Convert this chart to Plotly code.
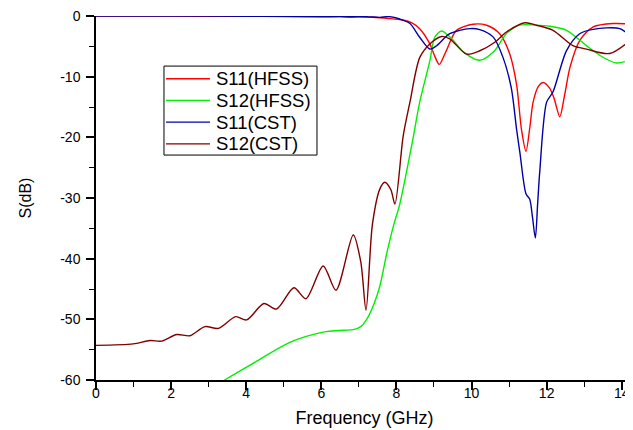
import plotly.graph_objects as go

# S11 (HFSS) - red
f_s11_hfss = [0, 2, 4, 5, 6, 6.5, 7, 7.37, 7.8, 8.17, 8.4, 8.62, 8.89, 9.0, 9.14, 9.33, 9.6, 10.04, 10.4, 10.75,
              11.02, 11.2, 11.33, 11.45, 11.55, 11.64, 11.78, 11.91, 12.08, 12.2, 12.35, 12.48, 12.62, 12.88, 13.24, 13.77, 14.3]
s11_hfss = [0, -0.02, -0.05, -0.08, -0.12, -0.15, -0.18, -0.2, -0.4, -0.67, -1.1, -2.1, -4.6, -6.3, -7.98, -5.7, -2.36, -1.35, -1.52, -2.92,
            -6.29, -11.3, -18.7, -22.3, -18.5, -14.2, -11.6, -10.95, -11.9, -13.6, -16.6, -13.0, -8.5, -4.05, -1.8, -1.24, -1.35]

# S12 (HFSS) - green
f_s12_hfss = [3.42, 4.28, 5.16, 6.05, 6.6, 6.85, 7.05, 7.2, 7.4, 7.56, 7.74, 7.93, 8.09, 8.42, 8.62, 8.89, 9.02, 9.2, 9.45, 9.8, 10.22,
              10.6, 10.93, 11.28, 11.7, 12.08, 12.53, 13.06, 13.5, 13.86, 14.3]
s12_hfss = [-60, -56.9, -53.8, -52.1, -51.8, -51.7, -51.2, -50.1, -47.5, -44.5, -39.2, -34.4, -31.0, -20.9, -14.2, -7.4, -3.5, -2.47, -3.6, -6.0, -7.3,
            -5.8, -2.9, -1.5, -1.5, -1.69, -2.36, -4.89, -6.8, -7.75, -7.1]

# S11 (CST) - blue
f_s11_cst = [0, 2, 4, 5, 6, 6.5, 6.8, 7.0, 7.3, 7.56, 7.8, 8.09, 8.36, 8.62, 8.89, 9.07, 9.42, 9.95, 10.22, 10.58, 10.84, 11.06, 11.2,
             11.29, 11.45, 11.55, 11.62, 11.7, 11.76, 11.82, 12.0, 12.17, 12.53, 12.88, 13.24, 13.95, 14.3]
s11_cst = [0, -0.01, -0.03, -0.06, -0.1, -0.05, -0.12, -0.05, -0.15, -0.22, -0.1, -0.5, -1.24, -3.5, -5.45, -4.9, -2.92, -2.08, -2.25, -3.48, -6.86, -11.9, -18.7,
           -22.6, -29.3, -30.2, -33.0, -36.6, -31.0, -25.4, -14.2, -12.5, -5.7, -2.92, -2.2, -2.08, -3.76]

# S12 (CST) - dark red
f_s12_cst = [0, 0.99, 1.44, 1.75, 2.15, 2.5, 2.9, 3.26, 3.72, 4.01, 4.47, 4.81, 5.27, 5.59, 6.05, 6.39, 6.85, 7.05, 7.19, 7.36, 7.56, 7.69,
             7.85, 7.96, 8.18, 8.36, 8.62, 8.89, 9.2, 9.42, 9.87, 10.22, 10.62, 10.93, 11.42, 11.73, 12.17, 12.7, 13.06, 13.68, 14.3]
s12_cst = [-54.3, -54.05, -53.5, -53.6, -52.5, -52.7, -51.2, -51.5, -49.55, -50.1, -47.4, -48.3, -44.8, -46.6, -41.2, -45.2, -36.1, -40.5, -48.5, -34.4, -28.5, -27.4,
           -28.6, -31.0, -19.8, -14.2, -6.86, -4.6, -3.37, -3.76, -6.29, -5.73, -4.33, -2.64, -1.12, -1.52, -2.36, -4.89, -5.45, -6.18, -3.65]

x_ticks = [0, 2, 4, 6, 8, 10, 12, 14]
y_ticks = [0, -10, -20, -30, -40, -50, -60]
y_ticktext = ["0", "-10", "-20", "-30", "-40", "-50", "-60"]

series_names = ["S11(HFSS)", "S12(HFSS)", "S11(CST)", "S12(CST)"]
series_x = [f_s11_hfss, f_s12_hfss, f_s11_cst, f_s12_cst]
series_y = [s11_hfss, s12_hfss, s11_cst, s12_cst]
series_colors = ["#FF0000", "#00EE00", "#0000A8", "#800000"]

fig = go.Figure()
for name, fx, fy, col in zip(series_names, series_x, series_y, series_colors):
    fig.add_trace(go.Scatter(x=fx, y=fy, mode="lines", name=name, showlegend=False,
                             line=dict(color=col, width=1.4, shape="spline", smoothing=0.8)))

# legend drawn as a framed key (paper coordinates)
LEG_X0, LEG_X1 = 0.1266, 0.4115
LEG_TOP, LEG_BOTTOM = 0.8624, 0.618
LEG_ROW0, LEG_STEP = 0.8278, 0.0597
LEG_LINE_X0, LEG_LINE_X1, LEG_TEXT_X = 0.1304, 0.2123, 0.2190

font_family = "Liberation Sans, Arial, sans-serif"
shapes = [dict(type="rect", xref="paper", yref="paper", x0=LEG_X0, x1=LEG_X1, y0=LEG_BOTTOM, y1=LEG_TOP,
               line=dict(color="black", width=1), fillcolor="white", layer="above")]
annotations = []
for i, (name, col) in enumerate(zip(series_names, series_colors)):
    yy = LEG_ROW0 - i * LEG_STEP
    shapes.append(dict(type="line", xref="paper", yref="paper", x0=LEG_LINE_X0, x1=LEG_LINE_X1, y0=yy, y1=yy,
                       line=dict(color=col, width=1.4), layer="above"))
    annotations.append(dict(xref="paper", yref="paper", x=LEG_TEXT_X, y=yy, text=name, showarrow=False,
                            xanchor="left", yanchor="middle", font=dict(size=18.5, family=font_family, color="black")))

# page body has an 8px margin, so the figure is 8px smaller than the window
fig.update_layout(
    width=625, height=422,
    margin=dict(l=88, r=0, t=8, b=50, autoexpand=False),
    paper_bgcolor="white", plot_bgcolor="white",
    font=dict(family=font_family, color="black"),
    shapes=shapes, annotations=annotations,
)
fig.update_xaxes(range=[0, 14.3], tickvals=x_ticks, ticktext=[str(v) for v in x_ticks],
                 showgrid=False, zeroline=False, automargin=False, ticklabeloverflow="allow",
                 showline=True, linecolor="black", linewidth=1.5,
                 ticks="outside", ticklen=8, tickwidth=1.5, tickcolor="black", ticklabelstandoff=-9,
                 minor=dict(dtick=1, tick0=0, ticks="outside", ticklen=5, tickwidth=1.2, tickcolor="black"),
                 tickfont=dict(size=14), title=dict(text="Frequency (GHz)", font=dict(size=18), standoff=12))
fig.update_yaxes(range=[-60, 0], tickvals=y_ticks, ticktext=y_ticktext,
                 showgrid=False, zeroline=False, automargin=False, ticklabeloverflow="allow",
                 showline=True, linecolor="black", linewidth=1.5,
                 ticks="outside", ticklen=8, tickwidth=1.5, tickcolor="black", ticklabelstandoff=3,
                 minor=dict(dtick=5, tick0=0, ticks="outside", ticklen=5, tickwidth=1.2, tickcolor="black"),
                 tickfont=dict(size=14), title=dict(text="S(dB)", font=dict(size=16), standoff=25))

fig.write_html("out.html")
